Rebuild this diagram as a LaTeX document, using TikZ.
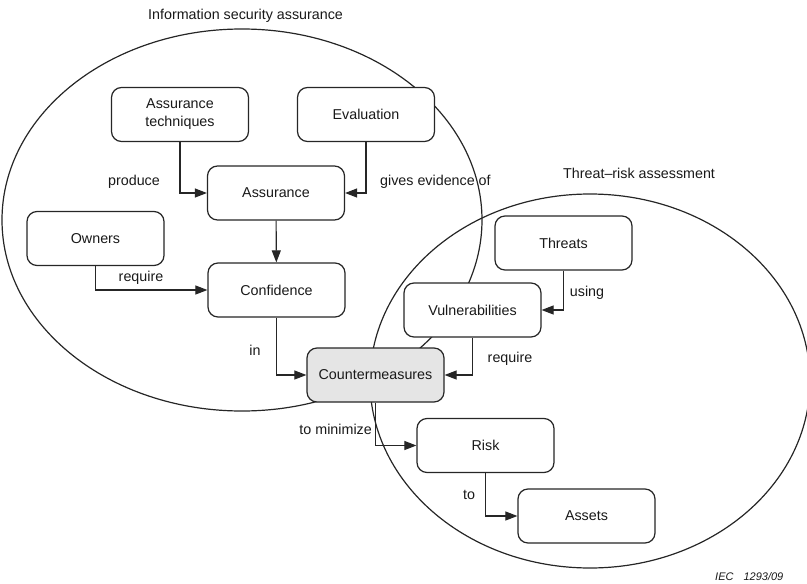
\documentclass[tikz,border=0pt]{standalone}
\usepackage{fontspec}
\setmainfont{Liberation Sans}
\usetikzlibrary{arrows.meta}
\begin{document}
\begin{tikzpicture}[x=1pt,y=-1pt,
  every node/.style={font=\fontsize{14.3}{17}\selectfont, text=black!90},
  box/.style={draw=black!85, line width=1.2pt, rounded corners=10pt, fill=white,
    minimum width=137pt, minimum height=54pt, inner sep=0pt, align=center},
  hot/.style={box, fill=black!10},
  link/.style={draw=black!85, line width=1.1pt, -{Triangle[length=12pt,width=9pt]}},
  region/.style={draw=black!85, line width=1.2pt},
  lbl/.style={inner sep=0pt}]
  \useasboundingbox (0,0) rectangle (807,584);

  % the two regions
  \draw[region] (242,220) ellipse [x radius=240, y radius=191];
  \draw[region] (590,381) ellipse [x radius=220, y radius=187];
  \node[lbl, anchor=west] (ttl1) at (148,16) {Information security assurance};
  \node[lbl, anchor=west] (ttl2) at (563,173) {Threat--risk assessment};

  % concepts
  \node[box] (tech)   at (180,114.5) {Assurance\\[1pt]techniques};
  \node[box] (eval)   at (366,114.5) {Evaluation};
  \node[box] (assur)  at (276,193)   {Assurance};
  \node[box] (owners) at (95.5,238.5) {Owners};
  \node[box] (conf)   at (276.5,290) {Confidence};
  \node[hot] (cm)     at (375.5,375) {Countermeasures};
  \node[box] (threat) at (563.5,243) {Threats};
  \node[box] (vuln)   at (472.5,310) {Vulnerabilities};
  \node[box] (risk)   at (485.5,445.5) {Risk};
  \node[box] (assets) at (586.5,516) {Assets};

  % relations
  \draw[link] (tech.south)   |- (assur.west);
  \draw[link] (eval.south)   |- (assur.east);
  \draw[link] (assur)        -- (conf);
  \draw[link] (owners.south) |- (conf.west);
  \draw[link] (conf.south)   |- (cm.west);
  \draw[link] (threat.south) |- (vuln.east);
  \draw[link] (vuln.south)   |- (cm.east);
  \draw[link] (cm.south)     |- (risk.west);
  \draw[link] (risk.south)   |- (assets.west);

  % relation labels
  \node[lbl] (l1) at (134,182) {produce};
  \node[lbl, anchor=west] (l2) at (380,182) {gives evidence of};
  \node[lbl] (l3) at (141,278) {require};
  \node[lbl] (l4) at (255,350) {in};
  \node[lbl] (l5) at (587,293) {using};
  \node[lbl] (l6) at (510,359) {require};
  \node[lbl, anchor=east] (l7) at (372,429) {to minimize};
  \node[lbl] (l8) at (469,495) {to};

  \node[lbl, anchor=west, font=\fontsize{11}{13}\selectfont\itshape] (ref) at (715,577) {IEC\hspace{10pt}1293/09};
\end{tikzpicture}
\end{document}
